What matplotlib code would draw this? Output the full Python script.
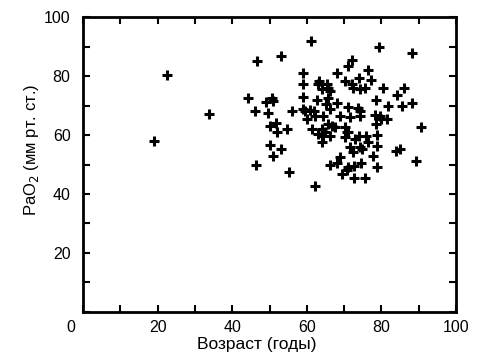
import matplotlib
matplotlib.use("Agg")
import matplotlib.pyplot as plt
from matplotlib.ticker import MultipleLocator
import matplotlib.transforms as mtransforms

plt.rcParams['font.family'] = ['Liberation Sans', 'DejaVu Sans']

age = [18.9, 22.4, 33.8, 44.3, 46.1, 46.6, 46.3, 49.0, 50.6, 51.0, 49.7, 50.0, 51.7, 51.9,
       50.1, 51.0, 53.1, 53.0, 54.8, 55.2, 56.1, 59.0, 59.1, 59.0, 59.1, 59.5, 61.0, 62.2,
       60.0, 61.5, 61.9, 63.1, 63.4, 62.6, 62.2, 64.0, 64.4, 64.0, 64.0, 64.4, 65.3, 65.7,
       66.2, 65.7, 65.1, 66.2, 65.7, 66.2, 66.7, 66.2, 68.0, 68.0, 68.9, 68.2, 68.9, 69.3,
       70.2, 71.1, 72.0, 71.1, 70.2, 70.2, 71.1, 71.6, 71.6, 71.1, 70.7, 72.0, 72.5, 72.5,
       72.7, 72.7, 72.9, 74.1, 74.3, 73.8, 74.3, 74.3, 74.1, 74.3, 74.7, 74.4, 75.6, 75.6,
       76.5, 77.1, 75.8, 76.5, 77.7, 78.5, 78.3, 78.5, 78.7, 78.7, 78.7, 79.4, 79.6, 80.0,
       81.4, 80.5, 81.9, 84.1, 85.0, 83.9, 86.1, 85.4, 88.2, 88.2, 89.3, 90.5, 60.9, 67.6,
       70.8, 63.0, 65.0]
pao2 = [57.9, 80.3, 67.3, 72.4, 68.0, 85.1, 49.9, 71.2, 72.7, 71.6, 67.6, 62.9, 64.0, 60.9,
        56.7, 52.8, 55.1, 86.7, 62.0, 47.6, 68.2, 80.9, 77.2, 72.9, 68.8, 68.2, 92.0, 42.6,
        65.4, 62.0, 68.2, 77.2, 78.3, 71.8, 66.5, 75.5, 66.5, 62.0, 57.8, 59.8, 77.2, 76.1,
        74.9, 72.4, 70.4, 68.8, 63.7, 59.8, 63.1, 49.9, 80.9, 71.0, 66.5, 50.4, 52.5, 46.9,
        78.3, 83.4, 85.6, 69.6, 62.6, 59.2, 60.9, 66.0, 55.8, 49.1, 48.0, 77.2, 76.1, 54.4,
        49.4, 45.4, 58.7, 79.4, 75.5, 69.3, 66.5, 68.2, 59.8, 55.8, 55.1, 50.6, 45.4, 76.1,
        82.2, 78.7, 59.8, 57.8, 52.8, 71.9, 66.7, 63.7, 60.0, 56.2, 49.3, 89.8, 66.5, 65.4,
        65.4, 76.1, 69.9, 73.6, 55.3, 54.7, 75.8, 69.7, 70.8, 87.9, 51.3, 62.6, 68.4, 62.6,
        61.0, 60.5, 61.2]

xticks = [0, 20, 40, 60, 80, 100]
yticks = [20, 40, 60, 80, 100]

fig = plt.figure(figsize=(4.8, 3.64), dpi=100)
ax = fig.add_axes([0.173, 0.143, 0.777, 0.81])
ax.plot(age, pao2, linestyle='none', marker='+', markersize=7, markeredgewidth=2.2, color='black')
ax.set_xlim(0, 100)
ax.set_ylim(0, 100)
ax.set_xticks(xticks)
ax.set_yticks(yticks)
ax.xaxis.set_minor_locator(MultipleLocator(10))
ax.yaxis.set_minor_locator(MultipleLocator(10))
ax.tick_params(which='both', direction='in', top=True, right=True, length=5, width=1.5,
               labelsize=11.5, pad=6)
ax.tick_params(axis='y', pad=9)
for s in ax.spines.values():
    s.set_linewidth(2)
ax.set_xlabel('Возраст (годы)', fontsize=12.5, labelpad=0)
ax.xaxis.set_label_coords(0.465, -0.085)
ax.set_ylabel('PaO$_2$ (мм рт. ст.)', fontsize=12)
ax.yaxis.set_label_coords(-0.112, 0.55)

lbl = ax.get_xticklabels()[0]
lbl.set_transform(lbl.get_transform() + mtransforms.ScaledTranslation(-0.12, 0, fig.dpi_scale_trans))

fig.savefig('out.png', dpi=100)
